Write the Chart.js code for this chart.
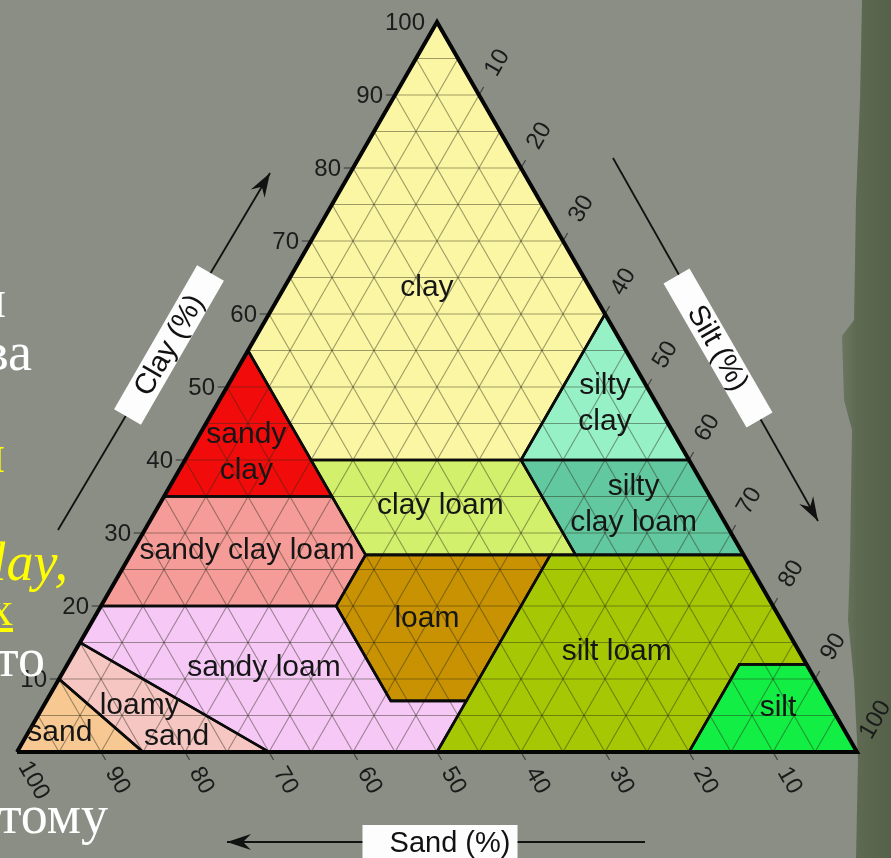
<!DOCTYPE html>
<html>
<head>
<meta charset="utf-8">
<script src="https://cdn.jsdelivr.net/npm/chart.js@4.4.1/dist/chart.umd.min.js"></script>
<style>
    html, body { margin: 0; padding: 0; }
    body {
        width: 891px; height: 858px; overflow: hidden; position: relative;
        background: #8a8e85;
    }
    #strip {
        position: absolute; left: 828px; top: 0; width: 63px; height: 858px;
        background: linear-gradient(to right, #76806b 0px, #5e6952 30px, #566149 63px);
        clip-path: polygon(34px 0, 32px 100px, 28px 200px, 26px 320px, 14px 336px, 16px 400px,
            24px 430px, 22px 560px, 20px 620px, 26px 680px, 30px 760px, 28px 858px, 63px 858px, 63px 0);
    }
    #tri { position: absolute; left: 0; top: 0; z-index: 1; }
    .slide {
        position: absolute; z-index: 2; white-space: nowrap; line-height: 1;
        font-family: "Liberation Serif", "DejaVu Serif", serif; font-size: 54px; color: #fff;
    }
    .yel { color: #ffff00; }
</style>
</head>
<body>
<div id="strip"></div>
<canvas id="tri" width="891" height="858"></canvas>

<!-- text of the slide behind the picture, mostly cut off at the left -->
<div class="slide" style="right:885px; top:272px;">почвы и</div>
<div class="slide" style="right:859px; top:325px;">почва</div>
<div class="slide yel" style="right:886px; top:427px;">глины и</div>
<div class="slide yel" style="right:823px; top:535px; font-style:italic;">clay,</div>
<div class="slide yel" style="right:878px; top:585px; font-size:48px; text-decoration:underline;">глинах</div>
<div class="slide" style="right:846px; top:631px;">что</div>
<div class="slide" style="right:783px; top:788px;">потому</div>

<script>
/* ============ DATA: USDA texture classes, vertices as [sand, silt, clay] % ============ */

const classNames = ["sand", "loamy sand", "sandy loam", "loam", "silt loam", "silt",
    "sandy clay loam", "clay loam", "silty clay loam", "sandy clay", "silty clay", "clay"];

const sandPts = [[100, 0, 0], [85, 15, 0], [90, 0, 10]];
const loamySandPts = [[85, 15, 0], [70, 30, 0], [85, 0, 15], [90, 0, 10]];
const sandyLoamPts = [[70, 30, 0], [50, 50, 0], [43, 50, 7], [52, 41, 7], [52, 28, 20], [80, 0, 20], [85, 0, 15]];
const loamPts = [[43, 50, 7], [23, 50, 27], [45, 28, 27], [52, 28, 20], [52, 41, 7]];
const siltLoamPts = [[50, 50, 0], [20, 80, 0], [8, 80, 12], [0, 88, 12], [0, 73, 27], [23, 50, 27], [43, 50, 7]];
const siltPts = [[20, 80, 0], [0, 100, 0], [0, 88, 12], [8, 80, 12]];
const sandyClayLoamPts = [[80, 0, 20], [52, 28, 20], [45, 28, 27], [45, 20, 35], [65, 0, 35]];
const clayLoamPts = [[45, 28, 27], [20, 53, 27], [20, 40, 40], [45, 15, 40]];
const siltyClayLoamPts = [[20, 53, 27], [0, 73, 27], [0, 60, 40], [20, 40, 40]];
const sandyClayPts = [[65, 0, 35], [45, 20, 35], [45, 0, 55]];
const siltyClayPts = [[20, 40, 40], [0, 60, 40], [0, 40, 60]];
const clayPts = [[45, 0, 55], [45, 15, 40], [20, 40, 40], [0, 40, 60], [0, 0, 100]];

const outlinePts = [[100, 0, 0], [0, 100, 0], [0, 0, 100]];

const gridSteps = [5, 10, 15, 20, 25, 30, 35, 40, 45, 50, 55, 60, 65, 70, 75, 80, 85, 90, 95];
const clayTicks = [10, 20, 30, 40, 50, 60, 70, 80, 90, 100];
const siltTicks = [10, 20, 30, 40, 50, 60, 70, 80, 90, 100];
const sandTicks = [10, 20, 30, 40, 50, 60, 70, 80, 90, 100];

/* ============ ESTILOS ============ */

const classColors = ["#f8c893", "#f6c6c3", "#f6c8f6", "#c99203", "#a6c704", "#12ee44",
    "#f59c99", "#d3f06c", "#62c8a0", "#f20b0b", "#96f1c6", "#fbf6a3"];

const classPolys = [sandPts, loamySandPts, sandyLoamPts, loamPts, siltLoamPts, siltPts,
    sandyClayLoamPts, clayLoamPts, siltyClayLoamPts, sandyClayPts, siltyClayPts, clayPts];

// label layout, in chart units (x = silt + clay/2, y = clay)
const labelLayout = [
    { lines: ["clay"], x: 48.8, y: 63.6 },
    { lines: ["silty", "clay"], x: 70.0, y: 47.7 },
    { lines: ["sandy", "clay"], x: 27.3, y: 41.0 },
    { lines: ["clay loam"], x: 50.4, y: 33.8 },
    { lines: ["silty", "clay loam"], x: 73.4, y: 33.9 },
    { lines: ["sandy clay loam"], x: 27.4, y: 27.6 },
    { lines: ["loam"], x: 48.8, y: 18.2 },
    { lines: ["silt loam"], x: 71.4, y: 13.7 },
    { lines: ["sandy loam"], x: 29.4, y: 11.6 },
    { lines: ["loamy"], x: 14.6, y: 6.3 },
    { lines: ["sand"], x: 19.0, y: 2.1 },
    { lines: ["sand"], x: 5.1, y: 2.6 },
    { lines: ["silt"], x: 90.6, y: 6.0 }
];

function toXY(p) {
    return { x: p[1] + p[2] / 2, y: p[2] };
}

function closed(pts) {
    return pts.concat([pts[0]]).map(toXY);
}

/* ============ DATASETS ============ */

const datasets = [];

classPolys.forEach((pts, i) => {
    datasets.push({
        label: classNames[i],
        data: closed(pts),
        showLine: true,
        fill: "shape",
        backgroundColor: classColors[i],
        borderColor: "#0b0b0b",
        borderWidth: 2.6,
        borderJoinStyle: "miter",
        pointRadius: 0,
        order: 2,
        clip: false
    });
});

function gridLine(a, b) {
    datasets.push({
        data: [toXY(a), toXY(b)],
        showLine: true,
        fill: false,
        borderColor: "rgba(45, 45, 25, 0.45)",
        borderWidth: 1.1,
        pointRadius: 0,
        order: 5,
        clip: false
    });
}

gridSteps.forEach(k => {
    gridLine([100 - k, 0, k], [0, 100 - k, k]);     // clay
    gridLine([100 - k, k, 0], [0, k, 100 - k]);     // silt
    gridLine([k, 100 - k, 0], [k, 0, 100 - k]);     // sand
});

function tickLine(a, b) {
    datasets.push({
        data: [toXY(a), toXY(b)],
        showLine: true,
        fill: false,
        borderColor: "rgba(40, 40, 40, 0.75)",
        borderWidth: 1.2,
        pointRadius: 0,
        order: 4,
        clip: false
    });
}

clayTicks.slice(0, -1).forEach(k => tickLine([100 - k, 0, k], [100 - k + 1.1, -1.1, k]));
siltTicks.slice(0, -1).forEach(k => tickLine([0, k, 100 - k], [-1.1, k, 100 - k + 1.1]));
sandTicks.slice(0, -1).forEach(k => tickLine([k, 100 - k, 0], [k, 100 - k + 1.1, -1.1]));

datasets.push({
    data: closed(outlinePts),
    showLine: true,
    fill: false,
    borderColor: "#050505",
    borderWidth: 4,
    borderJoinStyle: "miter",
    pointRadius: 0,
    order: 0,
    clip: false
});

/* ============ LABELS, AXIS TITLES ============ */

function arrow(ctx, x0, y0, x1, y1) {
    ctx.beginPath();
    ctx.moveTo(x0, y0);
    ctx.lineTo(x1, y1);
    ctx.stroke();
    const a = Math.atan2(y1 - y0, x1 - x0);
    ctx.save();
    ctx.translate(x1, y1);
    ctx.rotate(a);
    ctx.beginPath();
    ctx.moveTo(0, 0);
    ctx.lineTo(-24, -8);
    ctx.lineTo(-16, 0);
    ctx.lineTo(-24, 8);
    ctx.closePath();
    ctx.fill();
    ctx.restore();
}

function titleBox(ctx, cx, cy, rot, w, h, text, dx) {
    ctx.save();
    ctx.translate(cx, cy);
    ctx.rotate(rot);
    ctx.fillStyle = "#fdfdfd";
    ctx.fillRect(-w / 2, -h / 2, w, h);
    ctx.fillStyle = "#111";
    ctx.font = '29px "Liberation Sans", Arial, sans-serif';
    ctx.textAlign = "center";
    ctx.textBaseline = "middle";
    ctx.fillText(text, dx || 0, 1);
    ctx.restore();
}

const ternaryLabels = {
    id: "ternaryLabels",
    afterDatasetsDraw(chart) {
        const { ctx, scales: { x, y } } = chart;
        const pix = p => {
            const q = toXY(p);
            return [x.getPixelForValue(q.x), y.getPixelForValue(q.y)];
        };

        ctx.save();
        ctx.fillStyle = "#1b1b1b";
        ctx.font = '24px "Liberation Sans", Arial, sans-serif';

        // clay: horizontal, to the left of the left edge
        ctx.textAlign = "right";
        ctx.textBaseline = "middle";
        clayTicks.forEach(k => {
            const [px, py] = pix([100 - k, 0, k]);
            ctx.fillText(String(k), px - 12, py + 1);
        });

        // silt: along the grid line past the right edge
        ctx.textAlign = "center";
        siltTicks.forEach(k => {
            const [px, py] = pix([0, k, 100 - k]);
            const d = 37;
            ctx.save();
            ctx.translate(px + 0.5 * d, py - 0.866 * d);
            ctx.rotate(-Math.PI / 3);
            ctx.fillText(String(k), 0, 0);
            ctx.restore();
        });

        // sand: along the grid line below the bottom edge
        sandTicks.forEach(k => {
            const [px, py] = pix([k, 100 - k, 0]);
            const d = 33;
            ctx.save();
            ctx.translate(px + 0.5 * d, py + 0.866 * d);
            ctx.rotate(Math.PI / 3);
            ctx.fillText(String(k), 0, 0);
            ctx.restore();
        });

        // class names
        ctx.font = '30px "Liberation Sans", Arial, sans-serif';
        ctx.fillStyle = "#161616";
        labelLayout.forEach(l => {
            const lx = x.getPixelForValue(l.x);
            const ly = y.getPixelForValue(l.y);
            const top = ly - (l.lines.length - 1) * 18;
            l.lines.forEach((t, i) => ctx.fillText(t, lx, top + i * 36));
        });

        // axis arrows + titles
        ctx.strokeStyle = "#111";
        ctx.fillStyle = "#111";
        ctx.lineWidth = 1.8;
        arrow(ctx, 58, 530, 270, 173);
        arrow(ctx, 613, 158, 818, 521);
        arrow(ctx, 645, 842, 227, 842);

        titleBox(ctx, 169, 345, -Math.PI / 3, 166, 31, "Clay (%)");
        titleBox(ctx, 718, 348, Math.PI / 3, 166, 30, "Silt (%)");
        titleBox(ctx, 440, 843, 0, 155, 36, "Sand (%)", 10);

        ctx.restore();
    }
};

new Chart(document.getElementById("tri"), {
    type: "scatter",
    data: { datasets: datasets },
    options: {
        responsive: false,
        animation: false,
        events: [],
        layout: { padding: { left: 17, right: 34, top: 22, bottom: 106 } },
        scales: {
            x: { type: "linear", min: 0, max: 100, display: false },
            y: { type: "linear", min: 0, max: 100, display: false }
        },
        elements: { line: { tension: 0 }, point: { radius: 0 } },
        plugins: {
            legend: { display: false },
            tooltip: { enabled: false },
            filler: { drawTime: "beforeDatasetsDraw" }
        }
    },
    plugins: [ternaryLabels]
});
</script>
</body>
</html>
